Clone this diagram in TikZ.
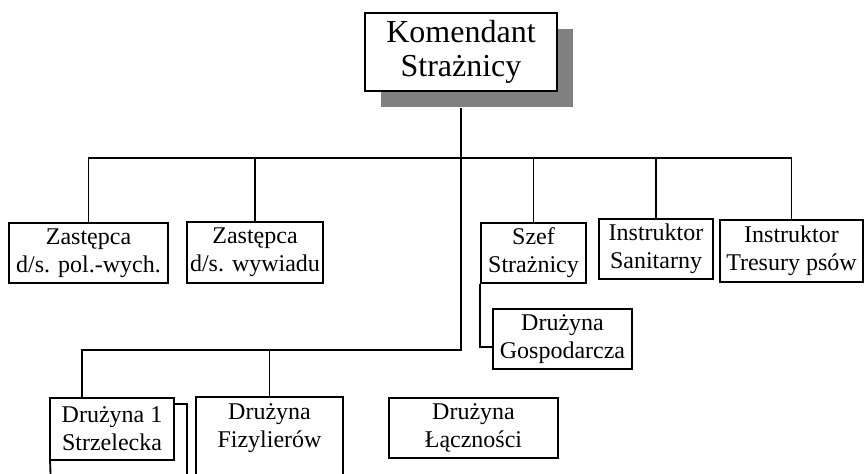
\documentclass[tikz,border=0pt]{standalone}
\usepackage{fontspec}
\setmainfont{Liberation Serif}
\usetikzlibrary{shadows}

\begin{document}
\begin{tikzpicture}[x=0.75pt, y=-0.75pt, line width=1.4pt,
  box/.style = {shape=rectangle, draw, fill=white, align=center, inner sep=0pt,
    minimum height=45pt, font=\fontsize{18}{21}\selectfont},
  head/.style = {box, font=\fontsize{24}{26}\selectfont,
    drop shadow={shadow xshift=12pt, shadow yshift=-12pt,
      fill=black!50, draw=none, opacity=1}}]
  \useasboundingbox (0,0) rectangle (865,474);
  \node[head, minimum width=144pt, minimum height=58.5pt] (kom) at (461,52) {Komendant\\Strażnicy};
  % pierwszy rząd
  \node[box, minimum width=119.25pt] (zpw) at (88.5,253) {Zastępca\\d/s. pol.-wych.};
  \node[box, minimum width=102pt, minimum height=45.75pt] (zw) at (255,252.5) {Zastępca\\d/s. wywiadu};
  \node[box, minimum width=78.75pt] (szef) at (533.5,253) {Szef\\Strażnicy};
  \node[box, minimum width=85.5pt] (isan) at (656,249) {Instruktor\\Sanitarny};
  \node[box, minimum width=107.25pt, minimum height=46.5pt] (itp) at (791.5,251) {Instruktor\\Tresury psów};
  \node[box, minimum width=104.25pt] (dgosp) at (562.5,339) {Drużyna\\Gospodarcza};
  % drugi rząd
  \node[box, draw=none, fill=none, minimum width=91.5pt] (ds1) at (112,429) {Drużyna 1\\Strzelecka};
  \draw (ds1.south west) rectangle (ds1.north east);
  \node[box, draw=none, minimum width=108.75pt] (dfiz) at (269.5,428) {Drużyna\\Fizylierów};
  \node[box, minimum width=126.75pt] (dlacz) at (473.5,428) {Drużyna\\Łączności};
  \draw ([yshift=-30pt]dfiz.south west) -- (dfiz.north west) -- (dfiz.north east) -- ([yshift=-30pt]dfiz.south east);

  \coordinate (bus1) at (461,158);
  \coordinate (bus2) at (461,350);
  \coordinate (cut1) at (187,490);
  \coordinate (cut2) at (51,490);

  \draw (zpw.north) |- (bus1) -| (itp.north);
  \draw (zw.north) -- (zw.north |- bus1);
  \draw (szef.north) -- (szef.north |- bus1);
  \draw (isan.north) -- (isan.north |- bus1);
  \draw ([yshift=-12pt]kom.south) -- (bus2) -| ([xshift=-22.5pt]ds1.north);
  \draw (dfiz.north) -- (dfiz.north |- bus2);
  \draw (szef.south west) |- ([yshift=-6pt]dgosp.west);
  \draw ([yshift=-4.5pt]ds1.north east) -| (cut1);
  \draw (ds1.south west) -- (cut2);
\end{tikzpicture}
\end{document}
